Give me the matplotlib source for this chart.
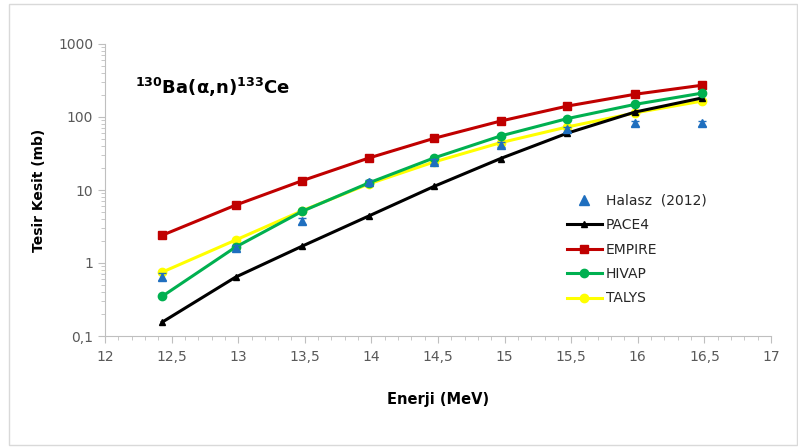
import numpy as np
import matplotlib
matplotlib.use("Agg")
import matplotlib.pyplot as plt
from matplotlib.ticker import FixedLocator, FuncFormatter, LogLocator, NullFormatter
from matplotlib.patches import Rectangle
from matplotlib.lines import Line2D

plt.rcParams['mathtext.default'] = 'bf'

# energies (MeV)
energy = [12.43, 12.98, 13.48, 13.98, 14.47, 14.97, 15.47, 15.98, 16.48]

# cross sections (mb)
halasz = [0.65, 1.6, 3.8, 12.8, 24.5, 42, 68, 82, 82]
halasz_err = [0.07, 0.15, 0.35, 1.1, 2.0, 3.5, 5.5, 6.5, 6.5]
pace4 = [0.155, 0.64, 1.7, 4.4, 11.2, 27, 60, 117, 182]
empire = [2.4, 6.2, 13.4, 27.4, 51, 88, 141, 205, 272]
hivap = [0.35, 1.65, 5.1, 12.5, 27.5, 55, 95, 149, 212]
talys = [0.75, 2.06, 5.2, 12.1, 24.2, 44.5, 73, 114, 165]

fig = plt.figure(figsize=(7.98, 4.48), dpi=100)
ax = fig.add_axes([105/798, 1-336/448, (771-105)/798, (336-44)/448])

fig.patches.append(Rectangle((9/798, 3/448), 788/798, 441/448, transform=fig.transFigure,
                             fill=False, edgecolor='#d9d9d9', linewidth=1.0))

blue = '#1F6FBF'
ax.errorbar(energy, halasz, yerr=halasz_err, fmt='^', color=blue, ms=6,
            elinewidth=1, capsize=3, zorder=5)
ax.plot(energy, pace4, '-^', color='black', lw=2.2, ms=5, zorder=3)
ax.plot(energy, empire, '-s', color='#C00000', lw=2.2, ms=6, zorder=3)
ax.plot(energy, hivap, '-o', color='#00B050', lw=2.2, ms=6, zorder=3)
ax.plot(energy, talys, '-o', color='#FFFF00', lw=2.2, ms=6, zorder=2)

ax.set_yscale('log')
ax.set_ylim(0.1, 1000)
ax.set_xlim(12, 17)

tick_col = '#595959'
ax.xaxis.set_major_locator(FixedLocator(np.arange(12, 17.01, 0.5)))
ax.xaxis.set_minor_locator(FixedLocator(np.arange(12, 17.01, 0.1)))
ax.xaxis.set_major_formatter(FuncFormatter(lambda v, p: ('%g' % v).replace('.', ',')))
ax.yaxis.set_major_formatter(FuncFormatter(lambda v, p: ('%g' % v).replace('.', ',')))
ax.yaxis.set_minor_locator(LogLocator(base=10, subs=np.arange(2, 10)))
ax.yaxis.set_minor_formatter(NullFormatter())

for s in ['top', 'right']:
    ax.spines[s].set_visible(False)
for s in ['left', 'bottom']:
    ax.spines[s].set_color('#bfbfbf')
ax.tick_params(which='major', direction='out', length=5, color='#bfbfbf',
               labelcolor=tick_col, labelsize=10)
ax.tick_params(which='minor', direction='out', length=3, color='#bfbfbf')
ax.tick_params(axis='x', which='major', pad=5)

ax.set_xlabel('Enerji (MeV)', fontsize=10.5, fontweight='bold', labelpad=20)
ax.set_ylabel('Tesir Kesit (mb)', fontsize=10, fontweight='bold', labelpad=9)

ax.text(0.045, 0.83, r'$^{130}$Ba(α,n)$^{133}$Ce', transform=ax.transAxes,
        fontsize=13, fontweight='bold')

handles = [
    Line2D([], [], ls='none', marker='^', color=blue, ms=7),
    Line2D([], [], color='black', lw=2.2, marker='^', ms=5),
    Line2D([], [], color='#C00000', lw=2.2, marker='s', ms=6),
    Line2D([], [], color='#00B050', lw=2.2, marker='o', ms=6),
    Line2D([], [], color='#FFFF00', lw=2.2, marker='o', ms=6),
]
labels = ['Halasz  (2012)', 'PACE4', 'EMPIRE', 'HIVAP', 'TALYS']
leg = ax.legend(handles, labels, loc='upper left', bbox_to_anchor=(0.675, 0.53),
                frameon=False, fontsize=10, handlelength=2.5, labelspacing=0.75,
                handletextpad=0.3)
for t in leg.get_texts():
    t.set_color('#262626')

fig.savefig('out.png', dpi=100)
